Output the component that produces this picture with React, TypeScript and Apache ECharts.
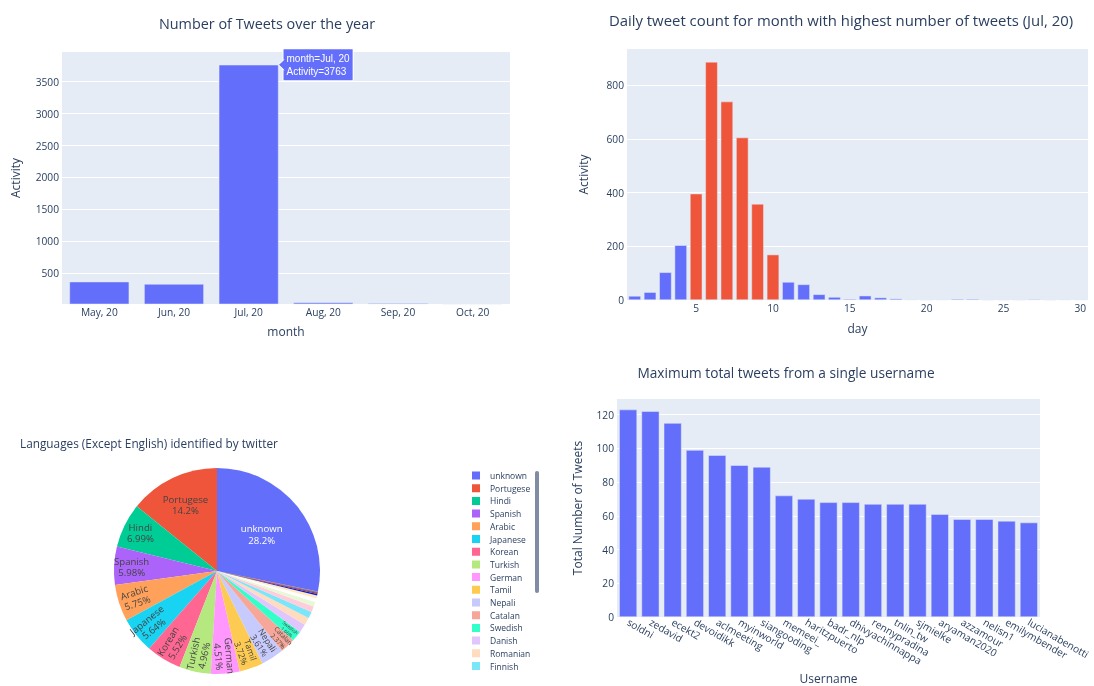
import React, { useEffect, useRef } from 'react';
import * as echarts from 'echarts';

// ---------- data ----------
const months = ['May, 20', 'Jun, 20', 'Jul, 20', 'Aug, 20', 'Sep, 20', 'Oct, 20'];
const monthActivity = [369, 333, 3763, 42, 33, 24];

const days = Array.from({ length: 30 }, (_, i) => String(i + 1));
const dayActivity = [15, 29, 103, 204, 396, 887, 739, 605, 358, 169, 67, 58, 21, 11, 4, 16, 9, 5, 2, 0, 2, 4, 4, 0, 0, 0, 3, 0, 2, 2];
const peakDays = [5, 6, 7, 8, 9, 10];
const dayTickLabels = [5, 10, 15, 20, 25, 30];

const langNames = [
  'unknown', 'Portugese', 'Hindi', 'Spanish', 'Arabic', 'Japanese', 'Korean', 'Turkish', 'German', 'Tamil',
  'Nepali', 'Catalan', 'Swedish', 'Danish', 'Romanian', 'Finnish', 'Polish', 'Dutch', 'Indonesian', 'French',
  'Italian', 'Thai', 'Urdu', 'Tagalog', 'Russian', 'Greek',
];
const langShares = [
  28.2, 14.2, 6.99, 5.98, 5.75, 5.64, 5.52, 4.96, 4.51, 3.72,
  3.61, 2.37, 1.66, 1.33, 1.2, 1.06, 0.9, 0.74, 0.6, 0.45,
  0.23, 0.14, 0.09, 0.07, 0.05, 0.03,
];
const legendCount = 16;

const usernames = [
  'soldni', 'zedavid', 'ecekt2', 'devoidikk', 'aclmeeting', 'myinworld', 'siangooding', 'memeei_', 'haritzpuerto',
  'badr_nlp', 'dhivyachinnappa', 'rennypradina', 'tnlin_tw', 'sjmielke', 'aryaman2020', 'azzamour', 'nelisn1',
  'emilymbender', 'lucianabenotti',
];
const userTweets = [123, 122, 115, 99, 96, 90, 89, 72, 70, 68, 68, 67, 67, 67, 61, 58, 58, 57, 56];

// ---------- styles ----------
const PLOT_BG = '#E5ECF6';
const TXT = '#2a3f5f';
const FONT = '"Open Sans", verdana, arial, sans-serif';
const BLUE = '#636efa';
const RED = '#EF553B';
const PIE_COLORS = [
  '#636efa', '#EF553B', '#00cc96', '#ab63fa', '#FFA15A', '#19d3f3', '#FF6692', '#B6E880', '#FF97FF', '#FECB52',
  '#c6cafd', '#f7a799', '#33ffc9', '#e0c6fd', '#ffdbc0', '#7ae6f8', '#ffccdb', '#e8f8d6', '#fffdff', '#ffeab8',
  '#0819ef', '#b5270f', '#00664b', '#7608ef', '#f36900', '#08889e',
];
const PIE_CX = 217;
const PIE_CY = 571;
const PIE_R = 103;

const plain = (v: number) => String(v);
const tickLabel = { color: TXT, fontSize: 10.2, fontFamily: FONT };
const axisName = { color: TXT, fontSize: 12, fontFamily: FONT };
const gridBase = { show: true, backgroundColor: PLOT_BG, borderWidth: 0, containLabel: false, outerBoundsMode: 'none' };
const splitWhite = { show: true, lineStyle: { color: '#ffffff', width: 1 }, showMinLine: false, showMaxLine: false };
const barBorder = { borderColor: PLOT_BG, borderWidth: 0.5 };

export default function App() {
  const ref = useRef<HTMLDivElement>(null);

  useEffect(() => {
    if (!ref.current) return;
    const chart = echarts.init(ref.current, null, { renderer: 'svg' });

    const peakIdx = monthActivity.indexOf(Math.max(...monthActivity));
    const peakMonth = months[peakIdx];

    const total = langShares.reduce((a, b) => a + b, 0);
    const startAngle = 90 - (360 * langShares[0]) / total;
    const cum: number[] = [];
    langShares.reduce((acc, v, i) => {
      cum[i] = acc;
      return acc + v;
    }, 0);
    const labelShown = (s: number) => s >= 1.5;
    const labelRadius = (s: number) => (s > 20 ? 0.56 : s > 10 ? 0.71 : s > 2.5 ? 0.83 : 0.9);
    const labelSize = (s: number) => (s >= 4.5 ? 9.6 : s >= 3 ? 8.6 : s >= 2 ? 6.5 : 4.8);

    const pieData = langNames.map((name, i) => {
      const s = langShares[i];
      return {
        name,
        value: s,
        itemStyle: { color: PIE_COLORS[i % PIE_COLORS.length] },
        label: {
          show: labelShown(s),
          rotate: s >= 5.9 ? 0 : 'radial',
          fontSize: labelSize(s),
          lineHeight: labelSize(s) * 1.15,
          color: i === 0 ? '#ffffff' : '#444444',
        },
      };
    });

    const monthData = monthActivity.map((v, i) =>
      i === peakIdx
        ? {
            value: v,
            label: {
              show: true,
              position: ['100%', 0],
              align: 'left',
              verticalAlign: 'middle',
              offset: [5, 0],
              formatter: `month=${months[i]}\nActivity=${v}`,
              color: '#ffffff',
              fontFamily: '"Liberation Sans", Arial, sans-serif',
              fontSize: 10,
              lineHeight: 13.5,
              backgroundColor: BLUE,
              borderColor: '#ffffff',
              borderWidth: 1,
              padding: [2, 3, 2, 3],
            },
          }
        : v
    );

    const option: any = {
      animation: false,
      textStyle: { fontFamily: FONT },
      grid: [
        { ...gridBase, left: 62, top: 52, width: 448, height: 252 },
        { ...gridBase, left: 627, top: 49, width: 461, height: 251 },
        { ...gridBase, left: 617, top: 399, width: 423, height: 218 },
      ],
      xAxis: [
        {
          gridIndex: 0,
          type: 'category',
          data: months,
          axisLine: { show: false },
          axisTick: { show: false },
          splitLine: { show: false },
          axisLabel: { ...tickLabel, margin: 3, interval: 0 },
          name: 'month',
          nameLocation: 'middle',
          nameGap: 21,
          nameTextStyle: axisName,
        },
        {
          gridIndex: 1,
          type: 'category',
          data: days,
          axisLine: { show: false },
          axisTick: { show: false },
          splitLine: { show: false },
          axisLabel: {
            ...tickLabel,
            margin: 3,
            interval: (_: number, val: string) => dayTickLabels.includes(Number(val)),
          },
          name: 'day',
          nameLocation: 'middle',
          nameGap: 22,
          nameTextStyle: axisName,
        },
        {
          gridIndex: 2,
          type: 'category',
          data: usernames,
          axisLine: { show: false },
          axisTick: { show: false },
          splitLine: { show: false },
          axisLabel: { ...tickLabel, margin: 4, interval: 0, rotate: -30 },
          name: 'Username',
          nameLocation: 'middle',
          nameGap: 55,
          nameTextStyle: axisName,
        },
      ],
      yAxis: [
        {
          gridIndex: 0,
          type: 'value',
          min: 20,
          max: 3963,
          splitNumber: 8,
          axisLine: { show: false },
          axisTick: { show: false },
          splitLine: splitWhite,
          axisLabel: { ...tickLabel, margin: 3, showMinLabel: false, showMaxLabel: false, formatter: plain },
          name: 'Activity',
          nameLocation: 'middle',
          nameGap: 41,
          nameTextStyle: axisName,
        },
        {
          gridIndex: 1,
          type: 'value',
          min: 0,
          max: 935,
          interval: 200,
          axisLine: { show: false },
          axisTick: { show: false },
          splitLine: { ...splitWhite, showMinLine: true },
          axisLabel: { ...tickLabel, margin: 3, showMaxLabel: false, formatter: plain },
          name: 'Activity',
          nameLocation: 'middle',
          nameGap: 38,
          nameTextStyle: axisName,
        },
        {
          gridIndex: 2,
          type: 'value',
          min: 0,
          max: 129.3,
          interval: 20,
          axisLine: { show: false },
          axisTick: { show: false },
          splitLine: { ...splitWhite, showMinLine: true },
          axisLabel: { ...tickLabel, margin: 3, showMaxLabel: false, formatter: plain },
          name: 'Total Number of Tweets',
          nameLocation: 'middle',
          nameGap: 34,
          nameTextStyle: axisName,
        },
      ],
      legend: {
        data: langNames.slice(0, legendCount),
        orient: 'vertical',
        left: 467,
        top: 466,
        padding: 5,
        itemWidth: 13,
        itemHeight: 8,
        itemGap: 3.7,
        icon: 'path://M0,0h8v8h-8z M13,7.99h0.01v0.01h-0.01z',
        selectedMode: false,
        textStyle: { color: TXT, fontSize: 8.5, fontFamily: FONT },
      },
      series: [
        {
          type: 'bar',
          xAxisIndex: 0,
          yAxisIndex: 0,
          data: monthData,
          barCategoryGap: '20%',
          itemStyle: { color: BLUE, ...barBorder },
          emphasis: { disabled: true },
        },
        {
          type: 'bar',
          xAxisIndex: 1,
          yAxisIndex: 1,
          data: dayActivity.map((v, i) => ({
            value: v,
            itemStyle: { color: peakDays.includes(i + 1) ? RED : BLUE },
          })),
          barCategoryGap: '20%',
          itemStyle: { ...barBorder },
          emphasis: { disabled: true },
        },
        {
          type: 'bar',
          xAxisIndex: 2,
          yAxisIndex: 2,
          data: userTweets,
          barCategoryGap: '20%',
          itemStyle: { color: BLUE, ...barBorder },
          emphasis: { disabled: true },
        },
        {
          type: 'pie',
          center: [PIE_CX, PIE_CY],
          radius: PIE_R,
          startAngle,
          clockwise: false,
          data: pieData,
          avoidLabelOverlap: false,
          emphasis: { disabled: true },
          itemStyle: { borderWidth: 0 },
          labelLine: { show: false },
          label: {
            position: 'inside',
            fontFamily: FONT,
            formatter: (p: any) => `${p.name}\n${p.value}%`,
          },
          labelLayout: (p: any) => {
            const i = p.dataIndex;
            const s = langShares[i];
            if (!labelShown(s)) return {};
            const mid = startAngle + (360 * (cum[i] + s / 2)) / total;
            const rad = (mid * Math.PI) / 180;
            const k = labelRadius(s) * PIE_R;
            return { x: PIE_CX + k * Math.cos(rad), y: PIE_CY - k * Math.sin(rad) };
          },
        },
      ],
    };

    chart.setOption(option);

    const elements: any[] = [
      {
        type: 'text',
        x: 267,
        y: 23,
        style: { text: 'Number of Tweets over the year', fontSize: 14.4, fontFamily: FONT, fill: TXT, align: 'center', verticalAlign: 'middle' },
      },
      {
        type: 'text',
        x: 841,
        y: 20,
        style: {
          text: `Daily tweet count for month with highest number of tweets (${peakMonth})`,
          fontSize: 14.9,
          fontFamily: FONT,
          fill: TXT,
          align: 'center',
          verticalAlign: 'middle',
        },
      },
      {
        type: 'text',
        x: 20,
        y: 443,
        style: { text: 'Languages (Except English) identified by twitter', fontSize: 11.8, fontFamily: FONT, fill: TXT, align: 'left', verticalAlign: 'middle' },
      },
      {
        type: 'text',
        x: 786,
        y: 372,
        style: { text: 'Maximum total tweets from a single username', fontSize: 13.7, fontFamily: FONT, fill: TXT, align: 'center', verticalAlign: 'middle' },
      },
      {
        type: 'rect',
        z: 100,
        shape: { x: 535, y: 471, width: 4, height: 122, r: 2 },
        style: { fill: '#808BA4' },
      },
    ];

    try {
      const lay = (chart as any).getModel().getSeriesByIndex(0).getData().getItemLayout(peakIdx);
      if (lay) {
        const x0 = lay.x + Math.max(lay.width, 0);
        const y0 = Math.min(lay.y, lay.y + lay.height);
        elements.push({
          type: 'polygon',
          z: 100,
          shape: { points: [[x0, y0], [x0 + 6.5, y0 - 5.5], [x0 + 6.5, y0 + 5.5]] },
          style: { fill: BLUE },
        });
        elements.push({
          type: 'polyline',
          z: 101,
          shape: { points: [[x0 + 5.5, y0 - 5.5], [x0, y0], [x0 + 5.5, y0 + 5.5]] },
          style: { stroke: '#ffffff', lineWidth: 1, fill: null },
        });
      }
    } catch (e) {
      // ignore
    }

    chart.setOption({ graphic: { elements } });

    return () => chart.dispose();
  }, []);

  return <div ref={ref} style={{ position: 'fixed', left: 0, top: 0, width: 1094, height: 686 }} />;
}
